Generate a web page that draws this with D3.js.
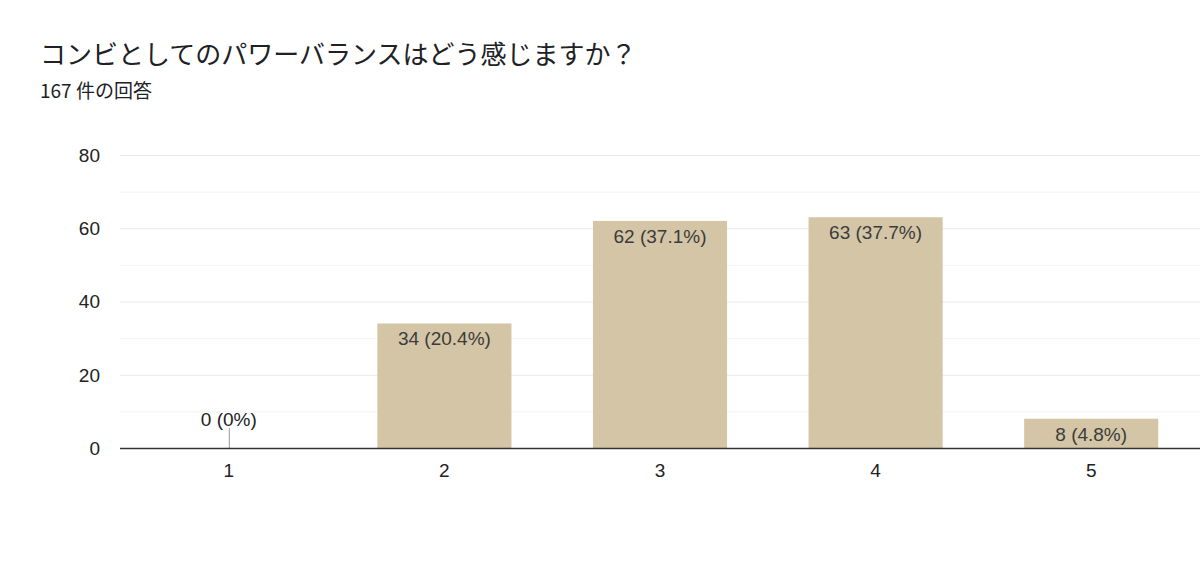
<!DOCTYPE html>
<html><head><meta charset="utf-8">
<script src="https://cdn.jsdelivr.net/npm/d3@7"></script>
<style>
html,body{margin:0;padding:0;background:#fff;}
svg{display:block;}
</style></head>
<body>
<svg id="chart" width="1200" height="571"></svg>
<script>
const titleText = "コンビとしてのパワーバランスはどう感じますか？";
const subtitleText = "167 件の回答";
const categories = ["1","2","3","4","5"];
const counts = [0,34,62,63,8];
const percentLabels = ["0%","20.4%","37.1%","37.7%","4.8%"];
const yTicks = [0,20,40,60,80];
const yMinorTicks = [10,30,50,70];

const svg = d3.select("#chart");
const plotLeft = 121, plotRight = 1199, plotTop = 155, plotBottom = 448;
const x = d3.scaleBand().domain(categories).range([plotLeft,plotRight]).paddingInner(0.378).paddingOuter(0.189);
const y = d3.scaleLinear().domain([0,80]).range([plotBottom,plotTop]);

const latin = "'Liberation Sans', Arial, sans-serif";
const cjk = "'Noto Sans CJK JP', 'Noto Sans', sans-serif";

svg.append("text").attr("x",40).attr("y",64).attr("font-family",cjk).attr("font-size",26).attr("fill","#202124").text(titleText);
svg.append("text").attr("x",40).attr("y",98).attr("font-family",cjk).attr("font-size",19).attr("fill","#202124").text(subtitleText);

// grid
svg.append("g").selectAll("line").data(yMinorTicks).join("line")
  .attr("x1",plotLeft-1).attr("x2",1200).attr("y1",d=>y(d)+0.5).attr("y2",d=>y(d)+0.5)
  .attr("stroke","#f3f3f3").attr("stroke-width",1);
svg.append("g").selectAll("line").data(yTicks.filter(d=>d!==0)).join("line")
  .attr("x1",plotLeft-1).attr("x2",1200).attr("y1",d=>y(d)+0.5).attr("y2",d=>y(d)+0.5)
  .attr("stroke","#e8e8e8").attr("stroke-width",1);

// y labels
svg.append("g").selectAll("text").data(yTicks).join("text")
  .attr("x",100).attr("y",d=>y(d)).attr("dy","0.36em").attr("text-anchor","end")
  .attr("font-family",latin).attr("font-size",19).attr("fill","#222").text(d=>d);

// bars
const data = categories.map((c,i)=>({c, v:counts[i], p:percentLabels[i]}));
svg.append("g").selectAll("rect").data(data.filter(d=>d.v>0)).join("rect")
  .attr("x",d=>x(d.c)).attr("width",x.bandwidth())
  .attr("y",d=>y(d.v)).attr("height",d=>y(0)-y(d.v))
  .attr("fill","#d3c5a5");

// zero-value marker
data.filter(d=>d.v===0).forEach(d=>{
  const cx = x(d.c)+x.bandwidth()/2;
  svg.append("line").attr("x1",cx+0.5).attr("x2",cx+0.5).attr("y1",y(0)-20).attr("y2",y(0))
    .attr("stroke","#999").attr("stroke-width",1);
  svg.append("text").attr("x",cx).attr("y",y(0)-22).attr("text-anchor","middle")
    .attr("font-family",latin).attr("font-size",19).attr("fill","#222").text(`${d.v} (${d.p})`);
});

// value labels inside bars
svg.append("g").selectAll("text").data(data.filter(d=>d.v>0)).join("text")
  .attr("x",d=>x(d.c)+x.bandwidth()/2).attr("y",d=>y(d.v)+22).attr("text-anchor","middle")
  .attr("font-family",latin).attr("font-size",19).attr("fill","#3c3c3c").text(d=>`${d.v} (${d.p})`);

// baseline
svg.append("line").attr("x1",plotLeft-1).attr("x2",1200).attr("y1",y(0)+0.5).attr("y2",y(0)+0.5)
  .attr("stroke","#333").attr("stroke-width",1.5);

// x labels
svg.append("g").selectAll("text").data(categories).join("text")
  .attr("x",d=>x(d)+x.bandwidth()/2).attr("y",477).attr("text-anchor","middle")
  .attr("font-family",latin).attr("font-size",19).attr("fill","#222").text(d=>d);
</script>
</body></html>
